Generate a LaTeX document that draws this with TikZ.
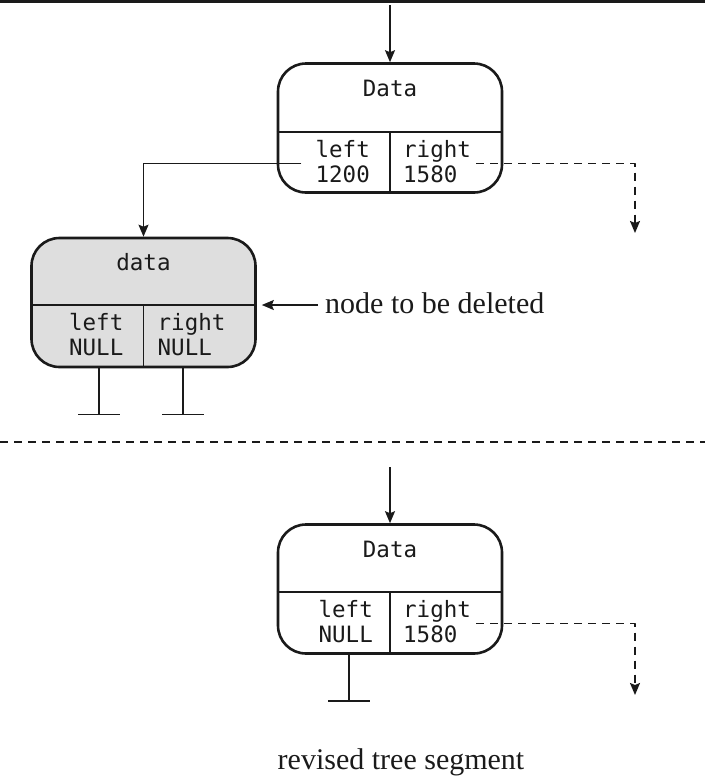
\documentclass[tikz,border=0pt]{standalone}
\usepackage{fontspec}
\setmainfont{Liberation Serif}
\setmonofont{DejaVu Sans Mono}
\usepackage{tikz}
\usetikzlibrary{arrows.meta,positioning,calc}
\definecolor{ink}{HTML}{1A1A1A}
\definecolor{delgray}{HTML}{DEDEDE}
\tikzset{
    every picture/.style={line join=round},
    treenode/.style={draw=ink,fill=white,line width=2.6pt,rounded corners=28pt,
      minimum width=224pt,minimum height=129pt,inner sep=0pt},
    deleted/.style={fill=delgray},
    divider/.style={draw=ink,line width=1.3pt},
    fieldtext/.style={font=\ttfamily\fontsize{22.5}{25}\selectfont,
      inner sep=0pt,align=left,text=ink},
    linkarrow/.style={-{Stealth[length=12pt,width=10pt,inset=2pt]},draw=ink,
      line width=1.6pt},
    nullarrow/.style={linkarrow,dash pattern=on 8pt off 6pt},
    groundline/.style={draw=ink,line width=1.6pt},
    caption/.style={font=\fontsize{30}{33}\selectfont,inner sep=0pt,text=ink}
}

\begin{document}
\begin{tikzpicture}[x=1pt,y=-1pt]
  \useasboundingbox (0,0) rectangle (705,780);
  \draw[ink,line width=3pt] (0,1.5) -- (705,1.5);
  % before deletion
  \node[treenode] (top) at (390,128) {};
  \node[treenode,deleted] (gray) at (143.5,302.5) {};
  \coordinate (topx) at ($(top.center)+(0,4)$);
  \coordinate (grayx) at ($(gray.center)+(0,2.5)$);
  \foreach \nd/\mid in {top/topx,gray/grayx}{
    \draw[divider] (\nd.west |- \mid) -- (\nd.east |- \mid);
    \draw[divider] (\mid) -- (\mid |- \nd.south);
  }
  \node[fieldtext,anchor=north] (topdata) at ($(top.north)+(0,18)$) {Data};
  \node[fieldtext,anchor=north east] (topleft) at ($(topx)+(-20,8)$) {left\\1200};
  \node[fieldtext,anchor=north west] (topright) at ($(topx)+(13,8)$) {right\\1580};
  \node[fieldtext,anchor=north] (graydata) at ($(gray.north)+(0,16)$) {data};
  \node[fieldtext,anchor=north east] (grayleft) at ($(grayx)+(-20,8)$) {left\\NULL};
  \node[fieldtext,anchor=north west] (grayright) at ($(grayx)+(14,8)$) {right\\NULL};
  \coordinate (topin) at (390,5);
  \coordinate (topnull) at (635,233);
  \draw[linkarrow] (topin) -- (top.north);
  \draw[linkarrow] ($(topleft.west)+(-14,2)$) -| (gray.north);
  \draw[nullarrow] ($(topright.east)+(5,2)$) -| (topnull);
  \node[caption,anchor=west] (dellabel) at (325,303) {node to be deleted};
  \draw[linkarrow] ($(dellabel.west)+(-7,2)$) -- ($(gray.east |- grayx)+(5,0)$);
  \draw[ink,line width=1.3pt,dash pattern=on 8pt off 6pt] (0,442) -- (705,442);
  % after deletion
  \node[treenode] (bot) at (390,589) {};
  \coordinate (botx) at ($(bot.center)+(0,3)$);
  \draw[divider] (bot.west |- botx) -- (bot.east |- botx);
  \draw[divider] (botx) -- (botx |- bot.south);
  \node[fieldtext,anchor=north] (botdata) at ($(bot.north)+(0,18)$) {Data};
  \node[fieldtext,anchor=north east] (botleft) at ($(botx)+(-17,8)$) {left\\NULL};
  \node[fieldtext,anchor=north west] (botright) at ($(botx)+(13,8)$) {right\\1580};
  \coordinate (botin) at (390,467);
  \coordinate (botnull) at (635,695);
  \draw[linkarrow] (botin) -- (bot.north);
  \draw[nullarrow] ($(botright.east)+(5,2)$) -| (botnull);
  \foreach \src/\dx [count=\i] in {gray/-44.5,gray/39.5,bot/-41}{
    \draw[groundline] ($(\src.south)+(\dx,0)$) -- ++(0,46) coordinate (ground\i);
    \draw[groundline] ($(ground\i)+(-21,0)$) -- ++(42,0);
  }
  \node[caption] (segcap) at (401,762) {revised tree segment};
\end{tikzpicture}
\end{document}
